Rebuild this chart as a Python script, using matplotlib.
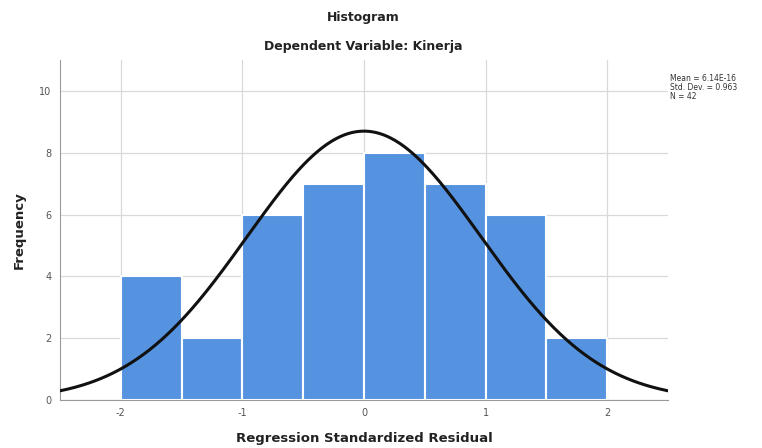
import numpy as np
import matplotlib.pyplot as plt

plt.rcParams['axes.unicode_minus'] = False

# histogram bins and counts
bin_edges = [-2.0, -1.5, -1.0, -0.5, 0.0, 0.5, 1.0, 1.5, 2.0]
counts = [4, 2, 6, 7, 8, 7, 6, 2]

mean = 6.14e-16
std_dev = 0.963
n = 42

x_ticks = [-2, -1, 0, 1, 2]
y_ticks = [0, 2, 4, 6, 8, 10]

fig = plt.figure(figsize=(7.62, 4.48), dpi=100)
ax = fig.add_axes([0.0787, 0.107, 0.798, 0.759])

lefts = bin_edges[:-1]
widths = np.diff(bin_edges)
ax.bar(lefts, counts, width=widths, align='edge', color='#5593e0',
       edgecolor='white', linewidth=1.5, zorder=2)

# normal curve scaled to counts
bw = widths[0]
xs = np.linspace(-2.5, 2.5, 400)
ys = n * bw * np.exp(-0.5 * ((xs - mean) / std_dev) ** 2) / (std_dev * np.sqrt(2 * np.pi))
ax.plot(xs, ys, color='#111111', linewidth=2.2, zorder=3)

ax.set_xlim(-2.5, 2.5)
ax.set_ylim(0, 11)
ax.set_xticks(x_ticks)
ax.set_yticks(y_ticks)
ax.tick_params(length=0, labelsize=7, colors='#555555', pad=6)
ax.grid(True, color='#d9d9d9', linewidth=0.9, zorder=0)
ax.set_axisbelow(True)
for s in ['top', 'right']:
    ax.spines[s].set_visible(False)
for s in ['left', 'bottom']:
    ax.spines[s].set_color('#9a9a9a')

ax.set_xlabel('Regression Standardized Residual', fontsize=9.5, fontweight='bold',
              color='#222222', labelpad=10)
ax.set_ylabel('Frequency', fontsize=9.5, fontweight='bold', color='#222222', labelpad=10)

fig.text(0.477, 0.96, 'Histogram', ha='center', va='center', fontsize=9,
         fontweight='bold', color='#222222')
fig.text(0.477, 0.897, 'Dependent Variable: Kinerja', ha='center', va='center',
         fontsize=9, fontweight='bold', color='#222222')

fig.text(0.879, 0.835, 'Mean = 6.14E-16\nStd. Dev. = 0.963\nN = 42', ha='left',
         va='top', fontsize=5.5, color='#333333', linespacing=1.0)

fig.savefig('out.png', dpi=100)
